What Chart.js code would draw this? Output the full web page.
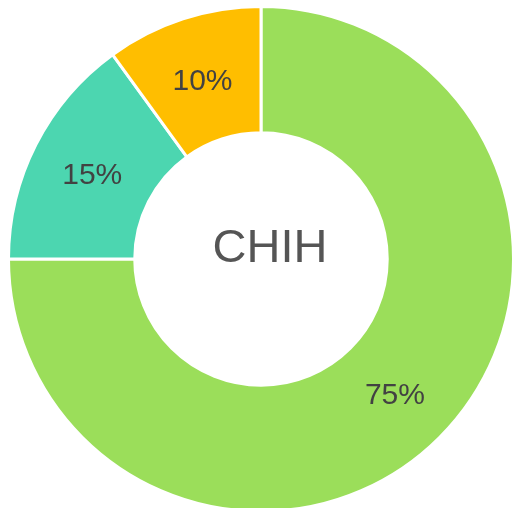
<!DOCTYPE html>
<html>
<head>
<meta charset="utf-8">
<script src="https://cdn.jsdelivr.net/npm/chart.js@4.4.1/dist/chart.umd.min.js"></script>
<style>
    html, body { margin: 0; padding: 0; background: #ffffff; overflow: hidden; }
    body { width: 512px; height: 508px; position: relative; }
    #wrap { position: absolute; left: 7px; top: 5px; width: 508px; height: 508px; }
</style>
</head>
<body>
<div id="wrap"><canvas id="donutChart"></canvas></div>
<script>
const labels = ["A", "B", "C"];
const values = [75, 15, 10];
const colors = ["#9BDE5A", "#4CD6B0", "#FFBE00"];
const centerText = "CHIH";

const fontFamily = "'Liberation Sans', Arial, Helvetica, sans-serif";

const sliceLabels = {
    id: "sliceLabels",
    afterDatasetsDraw(chart) {
        const ctx = chart.ctx;
        const meta = chart.getDatasetMeta(0);
        const total = values.reduce((sum, v) => sum + v, 0);

        ctx.save();
        ctx.font = "30px " + fontFamily;
        ctx.fillStyle = "#424242";
        ctx.textAlign = "center";
        ctx.textBaseline = "middle";
        meta.data.forEach((arc, i) => {
            const pos = arc.getCenterPoint();
            const pct = Math.round(values[i] / total * 100) + "%";
            ctx.fillText(pct, pos.x, pos.y + 3);
        });

        // centre label
        const first = meta.data[0];
        ctx.font = "47px " + fontFamily;
        ctx.fillStyle = "#555555";
        ctx.fillText(centerText, first.x + 9, first.y - 10);
        ctx.restore();
    }
};

new Chart(document.getElementById("donutChart"), {
    type: "doughnut",
    data: {
        labels: labels,
        datasets: [{
            data: values,
            backgroundColor: colors,
            borderColor: "#ffffff",
            borderWidth: 3
        }]
    },
    options: {
        responsive: true,
        maintainAspectRatio: false,
        animation: false,
        cutout: "50%",
        layout: { padding: 0 },
        plugins: {
            legend: { display: false },
            tooltip: { enabled: false }
        }
    },
    plugins: [sliceLabels]
});
</script>
</body>
</html>
